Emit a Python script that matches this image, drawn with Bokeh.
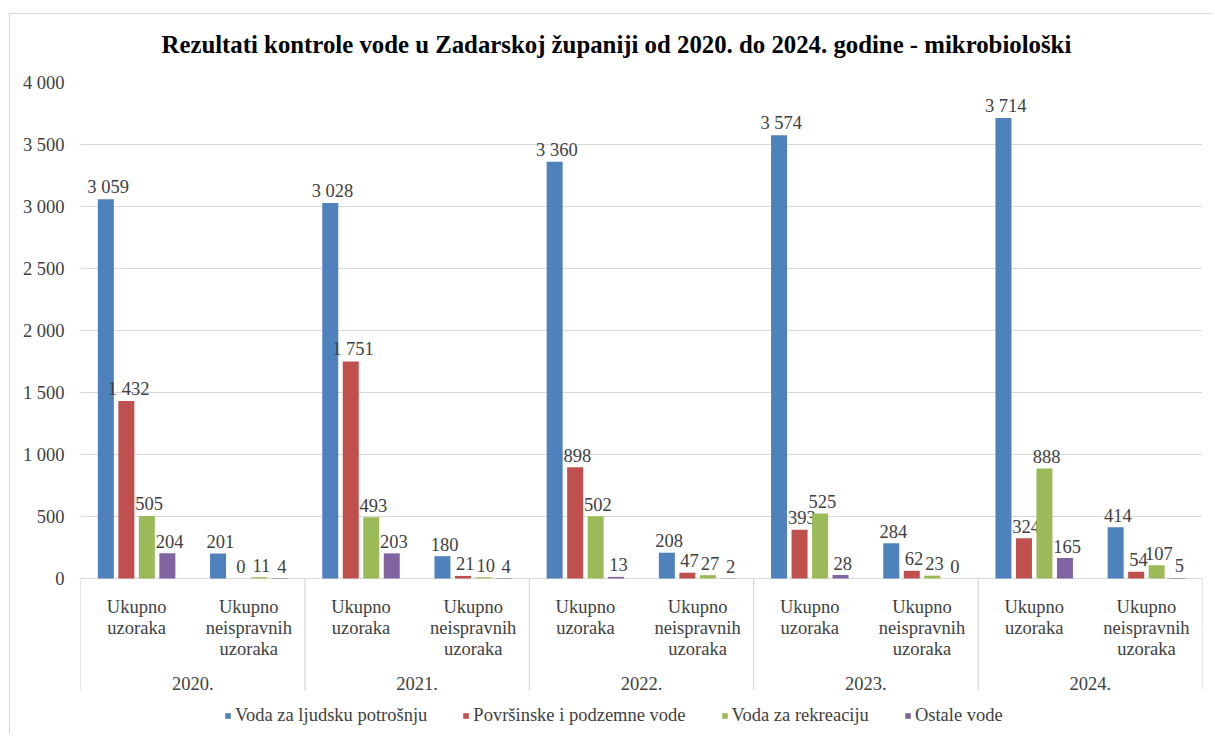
from bokeh.plotting import figure
from bokeh.models import (FactorRange, Range1d, FixedTicker, ColumnDataSource,
                          Legend, LegendItem)
from bokeh.transform import dodge
from bokeh.core.properties import value
from bokeh.embed import file_html
from bokeh.resources import INLINE

# ---------------- data ----------------
title_text = "Rezultati kontrole vode u Zadarskoj županiji od 2020. do 2024. godine - mikrobiološki"
years = ["2020.", "2021.", "2022.", "2023.", "2024."]
subcats = ["Ukupno uzoraka", "Ukupno neispravnih uzoraka"]
series_names = ["Voda za ljudsku potrošnju", "Površinske i podzemne vode",
                "Voda za rekreaciju", "Ostale vode"]
colors = ["#4F81BD", "#C0504D", "#9BBB59", "#8064A2"]

# order: (2020 ukupno, 2020 neispravnih, 2021 ukupno, ...)
voda_ljudska = [3059, 201, 3028, 180, 3360, 208, 3574, 284, 3714, 414]
povrsinske = [1432, 0, 1751, 21, 898, 47, 393, 62, 324, 54]
rekreacija = [505, 11, 493, 10, 502, 27, 525, 23, 888, 107]
ostale = [204, 4, 203, 4, 13, 2, 28, 0, 165, 5]
series_values = [voda_ljudska, povrsinske, rekreacija, ostale]

y_ticks = [0, 500, 1000, 1500, 2000, 2500, 3000, 3500, 4000]
y_tick_labels = ["0", "500", "1 000", "1 500", "2 000", "2 500", "3 000", "3 500", "4 000"]

# ---------------- layout ----------------
W, H = 1213, 734
SERIF = "Liberation Serif"
TXT = "#404040"
FS = "18.5px"

frame_left, frame_right = 80, 1202
frame_top, zero_y, frame_bottom = 82, 578, 734
px_per_unit = (zero_y - frame_top) / 4000.0
y_start = -(frame_bottom - zero_y) / px_per_unit

factors = [(y, s) for y in years for s in subcats]
x_range = FactorRange(*factors, range_padding=0, group_padding=0, factor_padding=0,
                      subgroup_padding=0)

p = figure(width=W, height=H, x_range=x_range, y_range=Range1d(y_start, 4000),
           output_backend="svg", toolbar_location=None, x_axis_location=None,
           min_border_left=frame_left, min_border_right=W - frame_right,
           min_border_top=frame_top, min_border_bottom=H - frame_bottom)
p.outline_line_color = None
p.background_fill_color = "white"
p.border_fill_alpha = 0
# thin outer chart border (left and top edges), drawn behind the transparent canvas border
p.styles = {
    "background": ("linear-gradient(#d9d9d9, #d9d9d9) 9px 13px / 1px 100% no-repeat, "
                   "linear-gradient(#d9d9d9, #d9d9d9) 9px 13px / 100% 1px no-repeat, white"),
}

p.title.text = title_text
p.title.text_font = SERIF
p.title.text_font_style = "bold"
p.title.text_font_size = "24.8px"
p.title.text_color = "black"
p.title.align = "left"
p.title.offset = 81
p.title.standoff = 49

# y axis
p.yaxis.ticker = FixedTicker(ticks=y_ticks)
p.yaxis.major_label_overrides = {t: l for t, l in zip(y_ticks, y_tick_labels)}
p.yaxis.axis_line_color = None
p.yaxis.major_tick_line_color = None
p.yaxis.minor_tick_line_color = None
p.yaxis.major_label_standoff = 10
p.yaxis.major_label_text_font = SERIF
p.yaxis.major_label_text_font_size = FS
p.yaxis.major_label_text_color = TXT
p.ygrid.ticker = FixedTicker(ticks=y_ticks)
p.ygrid.grid_line_color = "#d9d9d9"
p.ygrid.grid_line_width = 1
for g in p.xgrid:
    g.visible = False

# bars
slot_px = (frame_right - frame_left) / len(factors)
bar_step = 20.5 / slot_px
bar_w = 16.0 / slot_px
n = len(series_names)
items = []
for i, (name, vals, col) in enumerate(zip(series_names, series_values, colors)):
    off = (i - (n - 1) / 2.0) * bar_step
    src = ColumnDataSource(dict(cat=factors, val=vals,
                                lab=[f"{v:,}".replace(",", " ") for v in vals]))
    r = p.vbar(x=dodge("cat", off, range=p.x_range), top="val", width=bar_w,
               source=src, fill_color=col, line_color=None)
    p.text(x=dodge("cat", off + 0.02, range=p.x_range), y="val", text="lab", source=src,
           text_font=value(SERIF), text_font_size=FS, text_color=TXT,
           text_align="center", text_baseline="alphabetic", y_offset=-12)
    items.append(LegendItem(label=name, renderers=[r]))

# category labels (sub-level, split into lines)
lx, lt, lo = [], [], []
for f in factors:
    for k, word in enumerate(f[1].split(" ")):
        lx.append(f)
        lt.append(word)
        lo.append(28 + 21 * k)
p.text(x=lx, y=[0] * len(lx), text=lt, y_offset=lo,
       text_font=value(SERIF), text_font_size=FS, text_color=TXT,
       text_align="center", text_baseline="alphabetic")

# year labels
p.text(x=years, y=[0] * len(years), text=years, y_offset=105,
       text_font=value(SERIF), text_font_size=FS, text_color=TXT,
       text_align="center", text_baseline="alphabetic")

# separators between year groups
sep_bottom = -(690 - zero_y) / px_per_unit
sep_x = [i * len(subcats) for i in range(len(years) + 1)]
p.segment(x0=sep_x, y0=[0] * len(sep_x), x1=sep_x, y1=[sep_bottom] * len(sep_x),
          line_color="#d0d0d0", line_width=1)

legend = Legend(items=items, orientation="horizontal", location=(144, 8),
                glyph_width=7, glyph_height=7, label_standoff=4, spacing=35,
                padding=0, margin=0, border_line_color=None,
                background_fill_alpha=0, label_text_font=SERIF,
                label_text_font_size=FS, label_text_color=TXT, label_height=20)
p.add_layout(legend)

open("out.html", "w").write(file_html(p, INLINE))
